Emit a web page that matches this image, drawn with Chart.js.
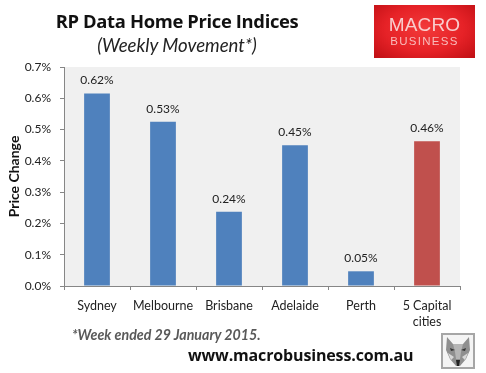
<!DOCTYPE html>
<html><head><meta charset="utf-8">
<script src="https://cdn.jsdelivr.net/npm/chart.js@4"></script>
<style>
html,body{margin:0;padding:0;background:#fff}
#wrap{position:relative;width:486px;height:373px;overflow:hidden;font-family:Lato,"Open Sans",sans-serif}
canvas#c{position:absolute;left:0;top:0}
.t{position:absolute;white-space:nowrap;text-align:center}
#title{left:55px;top:8px;width:244px;font:bold 18.4px "Open Sans",sans-serif;color:#111;letter-spacing:-.35px}
#sub{left:55px;top:34px;width:244px;font:italic 18.6px Lato,sans-serif;color:#222}
#logo{position:absolute;left:374px;top:5px;width:101px;height:53px;background:radial-gradient(ellipse at 50% 45%,#f23a3a 0%,#e62227 55%,#bf0f14 100%)}
#m{left:0;width:101px;top:9px;font:300 19px "Liberation Sans",sans-serif;color:#fbdede;letter-spacing:.2px;opacity:.9}
#b{left:0;width:101px;top:30px;font:11.5px "Liberation Sans",sans-serif;color:#f8bcbc;letter-spacing:1.3px}
#note{left:72px;top:326px;font:italic bold 14.2px Lato,sans-serif;color:#595959}
#url{left:188px;top:344px;font:bold 16px "Open Sans",sans-serif;color:#111;letter-spacing:-.15px}
#wolf{position:absolute;left:441px;top:333px;width:30px;height:32px;border:2px solid #a6a6a6;background:#f4f4f4}
#wolf svg{display:block;filter:blur(.4px)}
</style></head><body>
<div id="wrap">
<canvas id="c" width="486" height="373"></canvas>
<div class="t" id="title">RP Data Home Price Indices</div>
<div class="t" id="sub">(Weekly Movement*)</div>
<div id="logo"><div class="t" id="m">MACRO</div><div class="t" id="b">BUSINESS</div></div>
<div class="t" id="note">*Week ended 29 January 2015.</div>
<div class="t" id="url">www.macrobusiness.com.au</div>
<div id="wolf"><svg width="30" height="32" viewBox="0 0 30 32">
<path d="M4 2 L10 9 L20 9 L26 2 L27 15 L23 24 L17 31 L13 31 L7 24 L3 15 Z" fill="#8f8f8f"/>
<path d="M10 9 L20 9 L18 17 L17 24 L13 24 L12 17 Z" fill="#b5b5b5"/>
<path d="M7 13 L12 15 L8 16 Z M23 13 L18 15 L22 16 Z" fill="#333"/>
<path d="M5 18 L11 22 L8 25 Z M25 18 L19 22 L22 25 Z" fill="#d8d8d8"/>
<path d="M13 25 L17 25 L16 31 L14 31 Z" fill="#222"/>
</svg></div>
</div>
<script>
const categories=["Sydney","Melbourne","Brisbane","Adelaide","Perth",["5 Capital","cities"]];
const barValues=[0.615,0.525,0.237,0.45,0.047,0.463];
const valueLabels=["0.62%","0.53%","0.24%","0.45%","0.05%","0.46%"];
const barColors=["#4f81bd","#4f81bd","#4f81bd","#4f81bd","#4f81bd","#c0504d"];
const plotBg={id:'plotBg',beforeDraw(ch){const a=ch.chartArea,x=ch.ctx;x.save();x.fillStyle='#f0f0f0';x.fillRect(a.left,a.top,a.width,a.height);x.restore();}};
const valueText={id:'valueText',afterDatasetsDraw(ch){const x=ch.ctx;x.save();x.font='12px Lato';x.fillStyle='#222';x.textAlign='center';x.textBaseline='bottom';
 ch.getDatasetMeta(0).data.forEach((b,i)=>x.fillText(valueLabels[i],b.x,b.y-7));x.restore();}};
new Chart(document.getElementById('c'),{type:'bar',
 data:{labels:categories,datasets:[{data:barValues,backgroundColor:barColors,barPercentage:0.39,categoryPercentage:1}]},
 options:{responsive:false,animation:false,
  layout:{padding:{top:67,right:26,left:0,bottom:0}},
  plugins:{legend:{display:false},tooltip:{enabled:false}},
  scales:{
   x:{grid:{drawOnChartArea:false,drawTicks:true,tickLength:4,color:'#868686',offset:true},border:{color:'#868686'},
      ticks:{color:'#222',font:{family:'Lato',size:12.5,lineHeight:1.28},padding:8,maxRotation:0,autoSkip:false},
      afterFit(s){s.height=87;}},
   y:{min:0,max:0.7,grid:{drawOnChartArea:false,drawTicks:true,tickLength:4,color:'#868686'},border:{color:'#868686'},
      title:{display:true,text:'Price Change',color:'#111',font:{family:'Lato',size:14,weight:'bold'},padding:{top:6,bottom:0}},
      ticks:{stepSize:0.1,color:'#222',font:{family:'Lato',size:12},padding:9,callback:v=>v.toFixed(1)+'%'},
      afterFit(s){s.width=64;}}
  }},
 plugins:[plotBg,valueText]});
</script>
</body></html>
